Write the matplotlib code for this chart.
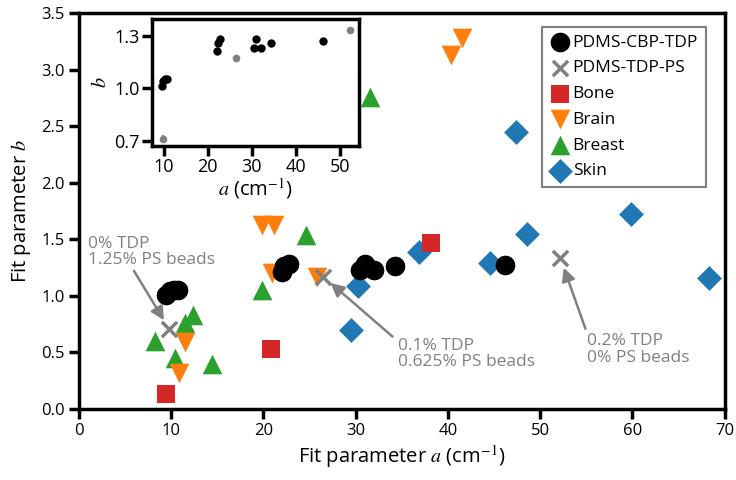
import matplotlib
matplotlib.use("Agg")
import matplotlib.pyplot as plt

plt.rcParams['font.family'] = ['Open Sans', 'DejaVu Sans']
plt.rcParams['mathtext.fontset'] = 'stix'

# Data
cbp_a = [9.5, 9.9, 10.3, 10.8, 22.0, 22.2, 22.8, 30.5, 31.0, 32.0, 34.3, 46.2]
cbp_b = [1.01, 1.04, 1.05, 1.05, 1.21, 1.26, 1.28, 1.23, 1.28, 1.23, 1.26, 1.27]
ps_a = [9.8, 26.5, 52.2]
ps_b = [0.71, 1.17, 1.33]
ps_err = [0.02, 0.01, 0.02]
bone_a = [9.5, 20.8, 38.2]
bone_b = [0.13, 0.53, 1.47]
brain_a = [11.5, 10.9, 19.9, 21.2, 21.0, 25.8, 40.3, 41.5]
brain_b = [0.59, 0.32, 1.63, 1.63, 1.20, 1.17, 3.13, 3.28]
breast_a = [8.3, 11.5, 12.4, 10.4, 14.5, 19.9, 24.6, 31.6]
breast_b = [0.60, 0.76, 0.83, 0.45, 0.40, 1.05, 1.54, 2.76]
skin_a = [29.5, 30.3, 36.9, 44.6, 47.4, 48.6, 59.8, 68.3]
skin_b = [0.70, 1.09, 1.39, 1.29, 2.45, 1.55, 1.72, 1.16]

GRAY = '#808080'
fig = plt.figure(figsize=(7.36, 4.8), dpi=100)
ax = fig.add_axes([0.1068, 0.148, 0.878, 0.825])

h_skin = ax.scatter(skin_a, skin_b, marker='D', s=160, color='#1f77b4', lw=0, label='Skin', zorder=2)
h_breast = ax.scatter(breast_a, breast_b, marker='^', s=200, color='#2ca02c', lw=0, label='Breast', zorder=3)
h_brain = ax.scatter(brain_a, brain_b, marker='v', s=200, color='#ff7f0e', lw=0, label='Brain', zorder=3)
h_bone = ax.scatter(bone_a, bone_b, marker='s', s=160, color='#d62728', lw=0, label='Bone', zorder=4)
h_ps = ax.scatter(ps_a, ps_b, marker='x', s=120, color=GRAY, linewidths=2.5, label='PDMS-TDP-PS', zorder=5)
h_cbp = ax.scatter(cbp_a, cbp_b, marker='o', s=200, color='black', lw=0, label='PDMS-CBP-TDP', zorder=6)

ax.set_xlim(0, 70)
ax.set_ylim(0, 3.5)
ax.set_xticks(range(0, 71, 10))
ax.set_yticks([0, 0.5, 1.0, 1.5, 2.0, 2.5, 3.0, 3.5])
ax.set_yticklabels(['0.0', '0.5', '1.0', '1.5', '2.0', '2.5', '3.0', '3.5'])
for s in ax.spines.values():
    s.set_linewidth(2.5)
ax.tick_params(direction='out', length=7, width=2.5, labelsize=12, pad=3)
ax.set_xlabel(r'Fit parameter $a$ (cm$^{-1}$)', fontsize=14.5, labelpad=3)
ax.set_ylabel(r'Fit parameter $b$', fontsize=14.5, labelpad=6)

leg = ax.legend(handles=[h_cbp, h_ps, h_bone, h_brain, h_breast, h_skin],
                loc='upper right', bbox_to_anchor=(0.984, 0.987), fontsize=12.5,
                fancybox=False, edgecolor=GRAY, framealpha=1, handletextpad=0.2,
                borderpad=0.45, labelspacing=0.55, handlelength=1.1)
leg.get_frame().set_linewidth(1.5)

akw = dict(arrowstyle='-|>', color=GRAY, lw=1.8, mutation_scale=20, shrinkA=0, shrinkB=7)
tkw = dict(color=GRAY, fontsize=12.5, va='top', ha='left', linespacing=1.05)
ax.annotate('', xy=(ps_a[0], ps_b[0]), xytext=(6.0, 1.22), arrowprops=akw)
ax.text(1.0, 1.53, '0% TDP\n1.25% PS beads', **tkw)
ax.annotate('', xy=(ps_a[1], ps_b[1]), xytext=(34.0, 0.64), arrowprops=akw)
ax.text(34.6, 0.63, '0.1% TDP\n0.625% PS beads', **tkw)
ax.annotate('', xy=(ps_a[2], ps_b[2]), xytext=(54.9, 0.71), arrowprops=akw)
ax.text(55.1, 0.67, '0.2% TDP\n0% PS beads', **tkw)

# Inset
ins = fig.add_axes([0.2065, 0.696, 0.281, 0.265])
ins.scatter(cbp_a, cbp_b, marker='o', s=36, color='black', lw=0, zorder=3)
ins.errorbar(ps_a, ps_b, yerr=ps_err, fmt='o', ms=4.5, color=GRAY, elinewidth=1.5, capsize=0, zorder=2)
ins.set_xlim(7.3, 54.3)
ins.set_ylim(0.67, 1.397)
ins.set_xticks([10, 20, 30, 40, 50])
ins.set_yticks([0.7, 1.0, 1.3])
for s in ins.spines.values():
    s.set_linewidth(2.5)
ins.tick_params(direction='out', length=7, width=2.5, labelsize=13, pad=2)
ins.set_xlabel(r'$a$ (cm$^{-1}$)', fontsize=14.5, labelpad=0)
ins.set_ylabel(r'$b$', fontsize=14.5, labelpad=2)

fig.savefig('out.png', dpi=100)
